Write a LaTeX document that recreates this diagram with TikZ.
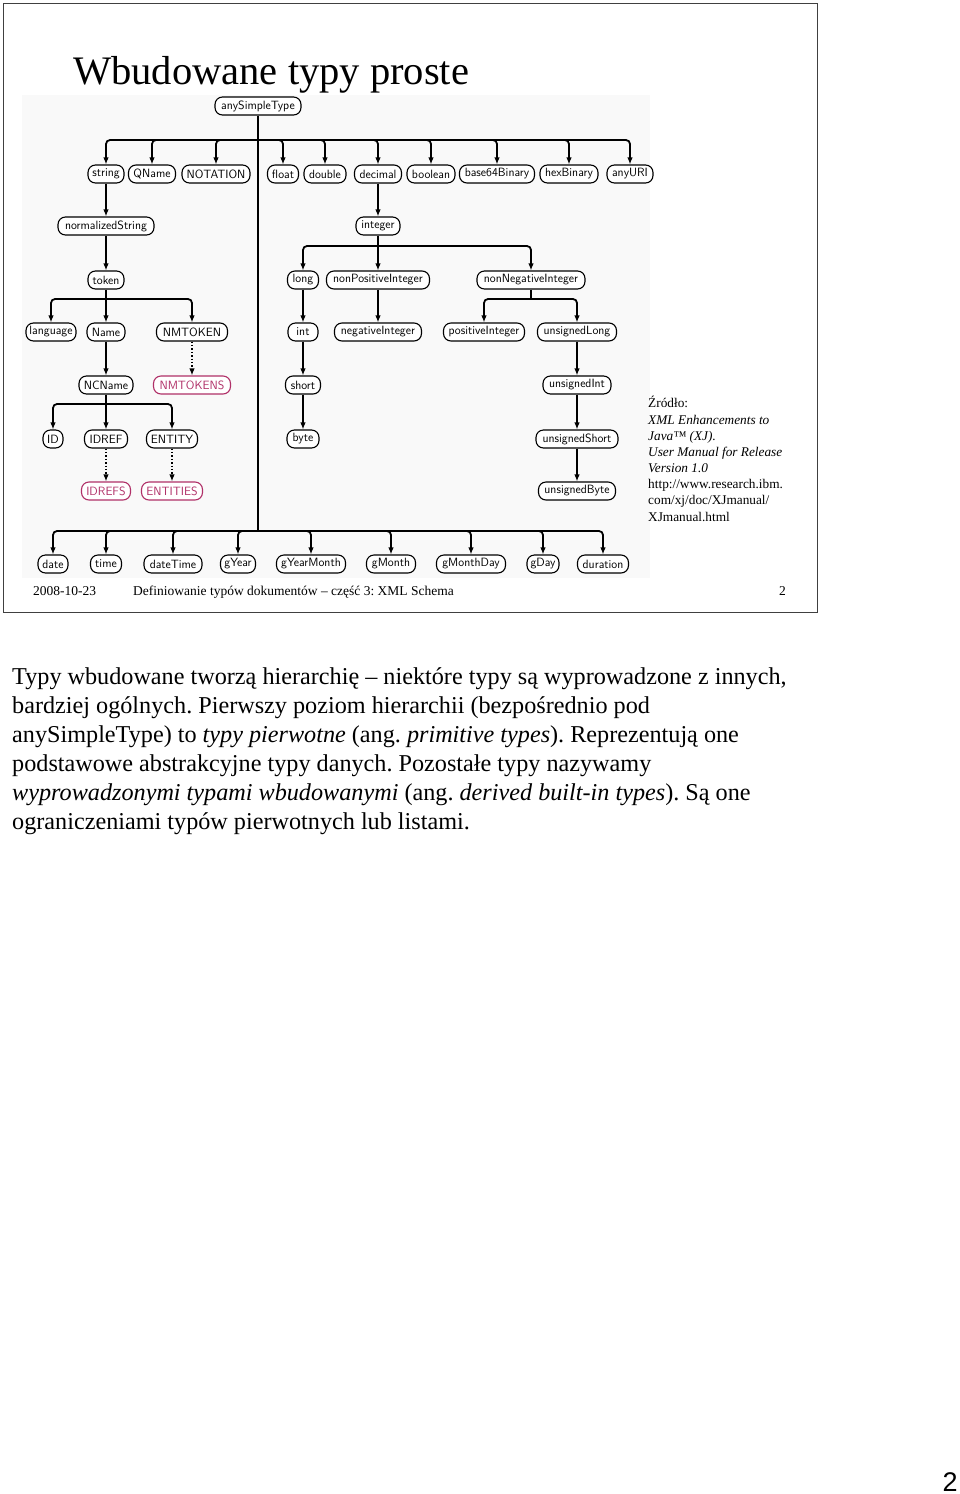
\documentclass[tikz,border=0pt]{standalone}
\usepackage{fontspec}
\setmainfont{Liberation Serif}
\newfontfamily\pagefont{Liberation Sans}
\usetikzlibrary{arrows.meta}
\definecolor{pinkc}{RGB}{176,48,104}
\definecolor{bgc}{RGB}{249,249,249}
\frenchspacing
\tikzset{
  tn/.style={draw, rounded corners=7.5pt, line width=1.1pt, minimum height=18pt, inner sep=1.2pt,
    font=\sffamily\fontsize{12}{12}\selectfont, fill=white},
  pk/.style={tn, draw=pinkc, text=pinkc},
  stem/.style={line width=1.8pt},
  con/.style={line width=1.8pt, rounded corners=4pt, -{Latex[length=7pt,width=5.5pt]}},
  dotc/.style={line width=1.4pt, dotted, -{Latex[length=7pt,width=5.5pt]}},
  srcfont/.style={anchor=base west, inner sep=0pt, font=\fontsize{13.3}{16}\selectfont},
  bodyline/.style={anchor=base west, inner sep=0pt, font=\fontsize{24.2}{29}\selectfont},
}
\begin{document}
\begin{tikzpicture}[x=1pt,y=-1pt]
\useasboundingbox[fill=white] (0,0) rectangle (960,1494);
% slide frame
\draw[line width=1pt, black!75] (3,3) rectangle (817,612);
\fill[bgc] (22,95) rectangle (650,578);
% title
\node[anchor=base west, inner sep=0pt, font=\fontsize{40.5}{40.5}\selectfont] (title) at (73,84) {Wbudowane typy proste};

% nodes
\node[tn, minimum width=86pt] (ast) at (258,106) {anySimpleType};
% row 2
\node[tn, minimum width=36pt] (string) at (106,174) {string};
\node[tn, minimum width=47pt] (QName) at (152,174) {QName};
\node[tn, minimum width=68pt] (NOTATION) at (216,174) {NOTATION};
\node[tn, minimum width=31pt] (float) at (283,174) {float};
\node[tn, minimum width=42pt] (double) at (325,174) {double};
\node[tn, minimum width=47pt] (decimal) at (378,174) {decimal};
\node[tn, minimum width=48pt] (boolean) at (431,174) {boolean};
\node[tn, minimum width=75pt] (b64) at (497,174) {base64Binary};
\node[tn, minimum width=58pt] (hexBinary) at (569,174) {hexBinary};
\node[tn, minimum width=46pt] (anyURI) at (630,174) {anyURI};
% row 3
\node[tn, minimum width=96pt] (normalizedString) at (106,226) {normalizedString};
\node[tn, minimum width=44pt] (integer) at (378,226) {integer};
% row 4
\node[tn, minimum width=36pt] (token) at (106,280) {token};
\node[tn, minimum width=31pt] (long) at (303,280) {long};
\node[tn, minimum width=103pt] (nonPos) at (378,280) {nonPositiveInteger};
\node[tn, minimum width=108pt] (nonNeg) at (531,280) {nonNegativeInteger};
% row 5
\node[tn, minimum width=50pt] (language) at (51,332) {language};
\node[tn, minimum width=38pt] (Name) at (106,332) {Name};
\node[tn, minimum width=71pt] (NMTOKEN) at (192,332) {NMTOKEN};
\node[tn, minimum width=30pt] (int) at (303,332) {int};
\node[tn, minimum width=87pt] (negInt) at (378,332) {negativeInteger};
\node[tn, minimum width=81pt] (posInt) at (484,332) {positiveInteger};
\node[tn, minimum width=79pt] (uLong) at (577,332) {unsignedLong};
% row 6
\node[tn, minimum width=54pt] (NCName) at (106,385) {NCName};
\node[pk, minimum width=77pt] (NMTOKENS) at (192,385) {NMTOKENS};
\node[tn, minimum width=35pt] (short) at (303,385) {short};
\node[tn, minimum width=68pt] (uInt) at (577,385) {unsignedInt};
% row 7
\node[tn, minimum width=20pt] (ID) at (53,439) {ID};
\node[tn, minimum width=43pt] (IDREF) at (106,439) {IDREF};
\node[tn, minimum width=51pt] (ENTITY) at (172,439) {ENTITY};
\node[tn, minimum width=32pt] (byte) at (303,439) {byte};
\node[tn, minimum width=82pt] (uShort) at (577,439) {unsignedShort};
% row 8
\node[pk, minimum width=49pt] (IDREFS) at (106,491) {IDREFS};
\node[pk, minimum width=61pt] (ENTITIES) at (172,491) {ENTITIES};
\node[tn, minimum width=77pt] (uByte) at (577,491) {unsignedByte};
% row 9
\node[tn, minimum width=30pt] (date) at (53,564) {date};
\node[tn, minimum width=31pt] (time) at (106,564) {time};
\node[tn, minimum width=58pt] (dateTime) at (173,564) {dateTime};
\node[tn, minimum width=35pt] (gYear) at (238,564) {gYear};
\node[tn, minimum width=69pt] (gYearMonth) at (311,564) {gYearMonth};
\node[tn, minimum width=49pt] (gMonth) at (391,564) {gMonth};
\node[tn, minimum width=69pt] (gMonthDay) at (471,564) {gMonthDay};
\node[tn, minimum width=32pt] (gDay) at (543,564) {gDay};
\node[tn, minimum width=51pt] (duration) at (603,564) {duration};

% connectors
\coordinate (b1) at (258,140);
\coordinate (b9) at (258,531);
\draw[stem] (ast.south) -- (b9);
\foreach \c in {string,QName,NOTATION,float,double,decimal,boolean,b64,hexBinary,anyURI}
  \draw[con] (b1) -| (\c.north);
\foreach \c in {date,time,dateTime,gYear,gYearMonth,gMonth,gMonthDay,gDay,duration}
  \draw[con] (b9) -| (\c.north);

\draw[con] (string.south) -- (normalizedString.north);
\draw[con] (normalizedString.south) -- (token.north);
\coordinate (b2) at (106,299);
\draw[con] (token.south) -- (Name.north);
\draw[con] (b2) -| (language.north);
\draw[con] (b2) -| (NMTOKEN.north);
\draw[con] (Name.south) -- (NCName.north);
\draw[dotc] (NMTOKEN.south) -- (NMTOKENS.north);
\coordinate (b3) at (106,404);
\draw[con] (NCName.south) -- (IDREF.north);
\draw[con] (b3) -| (ID.north);
\draw[con] (b3) -| (ENTITY.north);
\draw[dotc] (IDREF.south) -- (IDREFS.north);
\draw[dotc] (ENTITY.south) -- (ENTITIES.north);

\draw[con] (decimal.south) -- (integer.north);
\coordinate (b4) at (378,246);
\draw[con] (integer.south) -- (nonPos.north);
\draw[con] (b4) -| (long.north);
\draw[con] (b4) -| (nonNeg.north);
\draw[con] (long.south) -- (int.north);
\draw[con] (int.south) -- (short.north);
\draw[con] (short.south) -- (byte.north);
\draw[con] (nonPos.south) -- (negInt.north);
\coordinate (b5) at (531,299);
\draw[stem] (nonNeg.south) -- (b5);
\draw[con] (b5) -| (posInt.north);
\draw[con] (b5) -| (uLong.north);
\draw[con] (uLong.south) -- (uInt.north);
\draw[con] (uInt.south) -- (uShort.north);
\draw[con] (uShort.south) -- (uByte.north);

% source
\node[srcfont] (s1) at (648,407) {Źródło:};
\node[srcfont, font=\fontsize{13.3}{16}\selectfont\itshape] (s2) at (648,424) {XML Enhancements to};
\node[srcfont, font=\fontsize{13.3}{16}\selectfont\itshape] (s3) at (648,440) {Java™ (XJ).};
\node[srcfont, font=\fontsize{13.3}{16}\selectfont\itshape] (s4) at (648,456) {User Manual for Release};
\node[srcfont, font=\fontsize{13.3}{16}\selectfont\itshape] (s5) at (648,472) {Version 1.0};
\node[srcfont] (s6) at (648,488) {http://www.research.ibm.};
\node[srcfont] (s7) at (648,504) {com/xj/doc/XJmanual/};
\node[srcfont] (s8) at (648,521) {XJmanual.html};

% footer
\node[srcfont, font=\fontsize{13.5}{16}\selectfont] (f1) at (33,595) {2008-10-23};
\node[srcfont, font=\fontsize{13.5}{16}\selectfont] (f2) at (133,595) {Definiowanie typów dokumentów – część 3: XML Schema};
\node[srcfont, font=\fontsize{13.5}{16}\selectfont] (f3) at (779,595) {2};

% body text
\node[bodyline] (l1) at (12,684) {Typy wbudowane tworzą hierarchię – niektóre typy są wyprowadzone z innych,};
\node[bodyline] (l2) at (12,713) {bardziej ogólnych. Pierwszy poziom hierarchii (bezpośrednio pod};
\node[bodyline] (l3) at (12,742) {anySimpleType) to \textit{typy pierwotne} (ang. \textit{primitive types}). Reprezentują one};
\node[bodyline] (l4) at (12,771) {podstawowe abstrakcyjne typy danych. Pozostałe typy nazywamy};
\node[bodyline] (l5) at (12,800) {\textit{wyprowadzonymi typami wbudowanymi} (ang. \textit{derived built-in types}). Są one};
\node[bodyline] (l6) at (12,829) {ograniczeniami typów pierwotnych lub listami.};

% page number
\node[anchor=base, inner sep=0pt, font=\pagefont\fontsize{27}{27}\selectfont] (pg) at (950,1491) {2};
\end{tikzpicture}
\end{document}
